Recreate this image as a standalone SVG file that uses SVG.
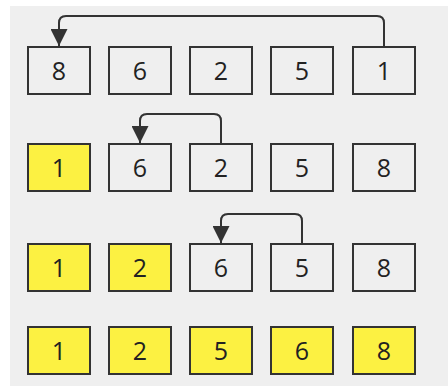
<svg xmlns="http://www.w3.org/2000/svg" width="448" height="386" viewBox="0 0 448 386">
  <defs>
    <marker id="arrow" viewBox="0 0 17 17" refX="17" refY="8.5" markerWidth="17" markerHeight="17" markerUnits="userSpaceOnUse" orient="auto">
      <path d="M0,0 L17,8.5 L0,17 Z" fill="#333333"/>
    </marker>
  </defs>
  <style>
    .box { stroke: #333333; stroke-width: 2; }
    .plain { fill: #efefef; }
    .done { fill: #fcf142; }
    .num { font-family: "Open Sans", "Noto Sans", sans-serif; font-size: 25px; fill: #222222; text-anchor: middle; }
    .link { fill: none; stroke: #333333; stroke-width: 2; marker-end: url(#arrow); }
  </style>

  <rect width="448" height="386" fill="#ffffff"/>
  <rect x="10" y="6" width="438" height="380" fill="#efefef"/>

  <!-- pass 1: 8 6 2 5 1 -->
  <g id="r1c1"><rect class="box plain" x="28" y="47" width="62" height="47"/><text class="num" x="59" y="79.5">8</text></g>
  <g id="r1c2"><rect class="box plain" x="109" y="47" width="62" height="47"/><text class="num" x="140" y="79.5">6</text></g>
  <g id="r1c3"><rect class="box plain" x="190" y="47" width="62" height="47"/><text class="num" x="221" y="79.5">2</text></g>
  <g id="r1c4"><rect class="box plain" x="271" y="47" width="62" height="47"/><text class="num" x="302" y="79.5">5</text></g>
  <g id="r1c5"><rect class="box plain" x="353" y="47" width="62" height="47"/><text class="num" x="384" y="79.5">1</text></g>

  <!-- pass 2: 1 6 2 5 8 -->
  <g id="r2c1"><rect class="box done" x="28" y="144" width="62" height="47"/><text class="num" x="59" y="176.5">1</text></g>
  <g id="r2c2"><rect class="box plain" x="109" y="144" width="62" height="47"/><text class="num" x="140" y="176.5">6</text></g>
  <g id="r2c3"><rect class="box plain" x="190" y="144" width="62" height="47"/><text class="num" x="221" y="176.5">2</text></g>
  <g id="r2c4"><rect class="box plain" x="271" y="144" width="62" height="47"/><text class="num" x="302" y="176.5">5</text></g>
  <g id="r2c5"><rect class="box plain" x="353" y="144" width="62" height="47"/><text class="num" x="384" y="176.5">8</text></g>

  <!-- pass 3: 1 2 6 5 8 -->
  <g id="r3c1"><rect class="box done" x="28" y="244" width="62" height="47"/><text class="num" x="59" y="276.5">1</text></g>
  <g id="r3c2"><rect class="box done" x="109" y="244" width="62" height="47"/><text class="num" x="140" y="276.5">2</text></g>
  <g id="r3c3"><rect class="box plain" x="190" y="244" width="62" height="47"/><text class="num" x="221" y="276.5">6</text></g>
  <g id="r3c4"><rect class="box plain" x="271" y="244" width="62" height="47"/><text class="num" x="302" y="276.5">5</text></g>
  <g id="r3c5"><rect class="box plain" x="353" y="244" width="62" height="47"/><text class="num" x="384" y="276.5">8</text></g>

  <!-- sorted: 1 2 5 6 8 -->
  <g id="r4c1"><rect class="box done" x="28" y="327" width="62" height="47"/><text class="num" x="59" y="359.5">1</text></g>
  <g id="r4c2"><rect class="box done" x="109" y="327" width="62" height="47"/><text class="num" x="140" y="359.5">2</text></g>
  <g id="r4c3"><rect class="box done" x="190" y="327" width="62" height="47"/><text class="num" x="221" y="359.5">5</text></g>
  <g id="r4c4"><rect class="box done" x="271" y="327" width="62" height="47"/><text class="num" x="302" y="359.5">6</text></g>
  <g id="r4c5"><rect class="box done" x="353" y="327" width="62" height="47"/><text class="num" x="384" y="359.5">8</text></g>

  <!-- swap arrows -->
  <g id="connectors">
    <path class="link" d="M384,47 V23 Q384,16 377,16 H66 Q59,16 59,23 V46"/>
    <path class="link" d="M221,144 V121 Q221,114 214,114 H147 Q140,114 140,121 V143"/>
    <path class="link" d="M302,244 V221 Q302,214 295,214 H228 Q221,214 221,221 V243"/>
  </g>
</svg>
